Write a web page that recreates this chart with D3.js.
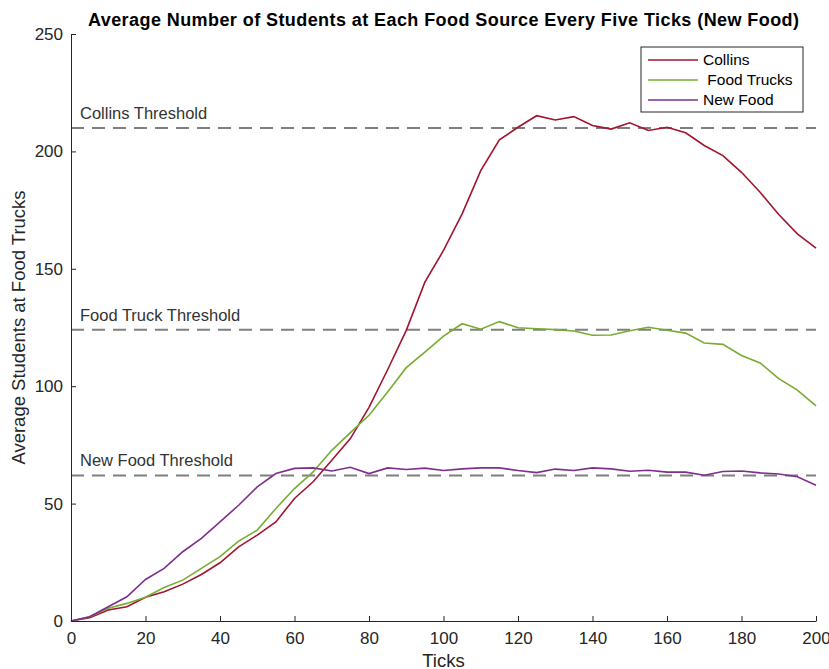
<!DOCTYPE html>
<html>
<head>
<meta charset="utf-8">
<script src="https://cdn.jsdelivr.net/npm/d3@7"></script>
<style>
  body { margin: 0; background: #fff; }
  svg { display: block; font-family: "Liberation Sans", Arial, Helvetica, sans-serif; }
</style>
</head>
<body>
<svg width="829" height="669"></svg>
<script>
'use strict';

const width = 829, height = 669;

// ticks sampled every five
const ticks = d3.range(0, 201, 5);

const collins = [0, 1.4, 4.7, 6.1, 10.1, 12.5, 15.7, 19.8, 24.8, 31.6, 36.6, 42.2, 52.2, 59.3, 68.5, 77.7,
  91, 107, 123.8, 144.3, 157.8, 173.4, 191.8, 204.9, 210.3, 215.2, 213.4, 214.8, 211, 209.5, 212.2,
  208.9, 210.3, 207.9, 202.5, 198.2, 191.1, 182.6, 173.1, 164.9, 158.8];

const foodTrucks = [0, 1.8, 5.4, 7.5, 10.1, 14.3, 17.4, 22.4, 27.4, 34, 38.7, 47.9, 56.4, 63.5, 72.7, 80.2,
  87.6, 97.5, 107.9, 114.5, 121.3, 126.6, 124.3, 127.5, 124.9, 124.5, 124.1, 123.5, 121.7, 121.8, 123.6,
  125.1, 123.8, 122.6, 118.4, 117.8, 113.1, 109.9, 103.2, 98.3, 91.6];

const newFood = [0, 1.8, 6.1, 10.3, 17.7, 22.4, 29.5, 35.2, 42.2, 49.3, 57.1, 62.8, 65, 65.2, 63.9, 65.5,
  62.8, 65.2, 64.5, 65.1, 64.1, 64.8, 65.2, 65.2, 64.1, 63.2, 64.7, 64.1, 65.2, 64.8, 63.8,
  64.2, 63.4, 63.4, 62.1, 63.7, 63.9, 63.1, 62.6, 61.4, 57.8];

const seriesNames = ["Collins", " Food Trucks", "New Food"];
const seriesColors = ["#A2142F", "#77AC30", "#7E2F8E"];

const thresholds = [210, 124, 62];
const thresholdNames = ["Collins Threshold", "Food Truck Threshold", "New Food Threshold"];

const xTicks = d3.range(0, 201, 20);
const yTicks = d3.range(0, 251, 50);

const margin = {top: 34, right: 13, bottom: 48, left: 71};

let svg = d3.select("svg")
  .attr("viewBox", [0, 0, width, height]);

let x = d3.scaleLinear().domain([0, 200]).range([margin.left, width - margin.right]);
let y = d3.scaleLinear().domain([0, 250]).range([height - margin.bottom, margin.top]);

const axisColor = "#262626";

// threshold lines
let thr = svg.append("g").selectAll("g")
  .data(thresholds)
  .join("g");

thr.append("line")
    .attr("x1", x(0))
    .attr("x2", x(200))
    .attr("y1", d => y(d))
    .attr("y2", d => y(d))
    .attr("stroke", "#7f7f7f")
    .attr("stroke-width", 2)
    .attr("stroke-dasharray", "13,8");

thr.append("text")
    .attr("x", x(0) + 9)
    .attr("y", d => y(d) - 9)
    .attr("font-size", 16.5)
    .attr("fill", "#333")
    .text((d, i) => thresholdNames[i]);

// series lines
let line = d3.line()
  .x((d, i) => x(ticks[i]))
  .y(d => y(d));

svg.append("g")
    .attr("fill", "none")
    .attr("stroke-width", 1.6)
  .selectAll("path")
  .data([collins, foodTrucks, newFood])
  .join("path")
    .attr("stroke", (d, i) => seriesColors[i])
    .attr("d", line);

// axes, ticks pointing inward
let xAxis = svg.append("g")
    .attr("transform", `translate(0,${y(0)})`)
    .call(d3.axisTop(x).tickValues(xTicks).tickSize(5).tickSizeOuter(0).tickFormat(d3.format("d")));
xAxis.selectAll("text")
    .attr("y", 11)
    .attr("dy", "0.71em");

let yAxis = svg.append("g")
    .attr("transform", `translate(${x(0)},0)`)
    .call(d3.axisRight(y).tickValues(yTicks).tickSize(5).tickSizeOuter(0));
yAxis.selectAll("text")
    .attr("x", -8)
    .attr("text-anchor", "end");

svg.selectAll(".tick text")
    .attr("font-size", 17)
    .attr("font-family", null)
    .attr("fill", axisColor);
svg.selectAll(".domain, .tick line")
    .attr("stroke", axisColor);

// axis labels
svg.append("text")
    .attr("x", (x(0) + x(200)) / 2)
    .attr("y", 667)
    .attr("text-anchor", "middle")
    .attr("font-size", 18.5)
    .attr("fill", axisColor)
    .text("Ticks");

svg.append("text")
    .attr("transform", `translate(25,${(y(0) + y(250)) / 2}) rotate(-90)`)
    .attr("text-anchor", "middle")
    .attr("font-size", 18.5)
    .attr("fill", axisColor)
    .text("Average Students at Food Trucks");

// title
svg.append("text")
    .attr("x", (x(0) + x(200)) / 2)
    .attr("y", 26)
    .attr("text-anchor", "middle")
    .attr("font-size", 18)
    .attr("font-weight", "bold")
    .attr("fill", "#000")
    .attr("textLength", 711)
    .attr("lengthAdjust", "spacing")
    .text("Average Number of Students at Each Food Source Every Five Ticks (New Food)");

// legend
let legend = svg.append("g")
    .attr("transform", "translate(641,47)");

legend.append("rect")
    .attr("width", 162)
    .attr("height", 65)
    .attr("fill", "#fff")
    .attr("stroke", axisColor)
    .attr("stroke-width", 1);

let item = legend.selectAll("g")
  .data(seriesNames)
  .join("g")
    .attr("transform", (d, i) => `translate(0,${13 + i * 20})`);

item.append("line")
    .attr("x1", 7)
    .attr("x2", 57)
    .attr("stroke", (d, i) => seriesColors[i])
    .attr("stroke-width", 1.6);

item.append("text")
    .attr("x", 62)
    .attr("dy", "0.35em")
    .attr("font-size", 15.5)
    .attr("fill", "#000")
    .attr("xml:space", "preserve")
    .style("white-space", "pre")
    .text(d => d);
</script>
</body>
</html>
